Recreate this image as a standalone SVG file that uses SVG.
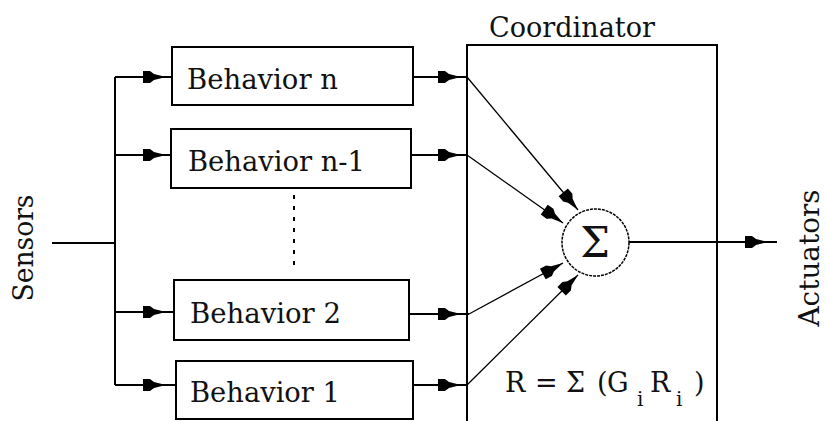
<svg xmlns="http://www.w3.org/2000/svg" xmlns:xlink="http://www.w3.org/1999/xlink" width="826" height="421" viewBox="0 0 826 421">
<style>
.box{fill:#fff;stroke:#000;stroke-width:2}
.ln{fill:none;stroke:#000;stroke-width:2}
.dg{fill:none;stroke:#000;stroke-width:1.3}
.t{font-family:"DejaVu Serif","Liberation Serif",serif;font-size:27px;fill:#111}
.m{font-family:"DejaVu Serif","Liberation Serif",serif;font-size:28px;fill:#111}
</style>
<defs>
<path id="ah" d="M0,0 L-12,-3 L-16,-6 L-23,-6 L-23,6 L-16,6 L-12,3 Z" fill="#000"/>
</defs>
<rect width="826" height="421" fill="#fff"/>
<g id="coordinator">
<rect class="box" x="467" y="45" width="250" height="400"/>
<text class="t" x="489" y="37" textLength="166" lengthAdjust="spacingAndGlyphs">Coordinator</text>
<text class="t" y="392"><tspan x="505">R</tspan><tspan x="535">=</tspan><tspan x="566">Σ</tspan><tspan x="597">(</tspan><tspan x="607">G</tspan><tspan x="637" y="406" style="font-size:20px">i</tspan><tspan x="650" y="392">R</tspan><tspan x="676" y="406" style="font-size:20px">i</tspan><tspan x="694" y="392">)</tspan></text>
</g>
<g id="sum">
<circle cx="595.5" cy="242.5" r="33.5" fill="#fff" stroke="#000" stroke-width="1.5" stroke-dasharray="3 1"/>
<text class="t" x="595" y="257" style="font-size:42px" text-anchor="middle">Σ</text>
</g>
<g id="behavior-n">
<rect class="box" x="172" y="47" width="241" height="58"/>
<text class="t" x="187" y="89" textLength="151" lengthAdjust="spacingAndGlyphs">Behavior n</text>
</g>
<g id="behavior-n-1">
<rect class="box" x="171" y="129" width="240" height="59"/>
<text class="t" x="188" y="171" textLength="177" lengthAdjust="spacingAndGlyphs">Behavior n-1</text>
</g>
<g id="behavior-2">
<rect class="box" x="174" y="280" width="235" height="60"/>
<text class="t" x="190" y="323" textLength="151" lengthAdjust="spacingAndGlyphs">Behavior 2</text>
</g>
<g id="behavior-1">
<rect class="box" x="176" y="361" width="237" height="58"/>
<text class="t" x="190" y="402" textLength="150" lengthAdjust="spacingAndGlyphs">Behavior 1</text>
</g>
<g id="sensors">
<text class="m" transform="translate(33,248) rotate(-90)" text-anchor="middle" textLength="107" lengthAdjust="spacingAndGlyphs">Sensors</text>
</g>
<g id="actuators">
<text class="m" transform="translate(819,258) rotate(-90)" text-anchor="middle" textLength="137" lengthAdjust="spacingAndGlyphs">Actuators</text>
</g>
<g id="connectors">
<path class="ln" d="M52,243 H115 M115,77 V385 M115,77 H172 M115,155 H171 M115,312 H174 M115,385 H176"/>
<use xlink:href="#ah" transform="translate(166,77)"/>
<use xlink:href="#ah" transform="translate(166,155)"/>
<use xlink:href="#ah" transform="translate(166,312)"/>
<use xlink:href="#ah" transform="translate(166,385)"/>
<path class="ln" d="M413,77 H467 M411,155 H467 M409,314 H469 M413,385 H467"/>
<use xlink:href="#ah" transform="translate(461,77)"/>
<use xlink:href="#ah" transform="translate(461,155)"/>
<use xlink:href="#ah" transform="translate(461,314)"/>
<use xlink:href="#ah" transform="translate(461,385)"/>
<path class="dg" d="M467,77 L578,210 M467,155 L563,223 M469,314 L563,263 M467,385 L578,275"/>
<use xlink:href="#ah" transform="translate(578,210) rotate(50.2)"/>
<use xlink:href="#ah" transform="translate(563,223) rotate(35.3)"/>
<use xlink:href="#ah" transform="translate(563,263) rotate(-28.7)"/>
<use xlink:href="#ah" transform="translate(578,275) rotate(-44.7)"/>
<path class="ln" d="M629,242 H777"/>
<use xlink:href="#ah" transform="translate(768,242)"/>
<path fill="none" stroke="#000" stroke-width="2" stroke-dasharray="4 7" d="M294,195 V272"/>
</g>
</svg>
